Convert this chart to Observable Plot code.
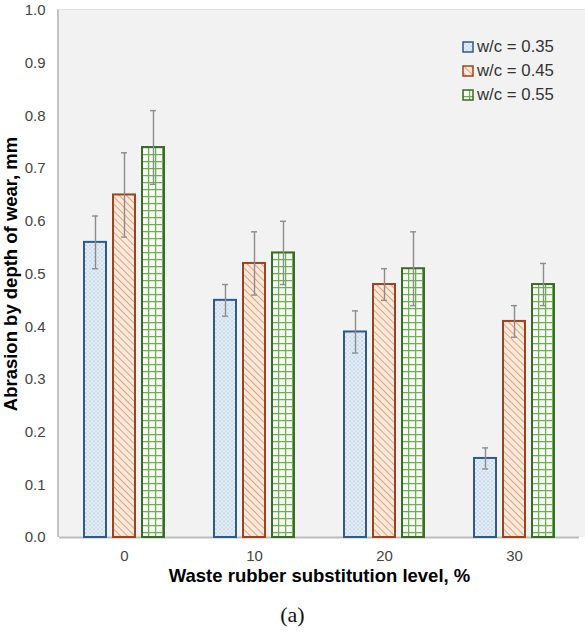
<!DOCTYPE html>
<html><head><meta charset="utf-8">
<script src="https://cdn.jsdelivr.net/npm/d3@7"></script>
<script src="https://cdn.jsdelivr.net/npm/@observablehq/plot@0.6"></script>
<style>
body{margin:0;background:#fff;font-family:"Liberation Sans",Arial,sans-serif;}
#wrap{position:relative;width:585px;height:640px;overflow:hidden;}
#panel{position:absolute;left:57px;top:9px;width:528px;height:528px;background:#f2f2f2;border-left:2px solid #c4c4c4;border-top:1px solid #e2e2e2;box-sizing:border-box;}
#chart{position:absolute;left:0;top:0;}
#legend{position:absolute;left:462px;top:35px;font-size:16.8px;color:#333;}
.item{display:flex;align-items:center;height:24px;}
.item svg{margin-right:3px;}
#caption{position:absolute;top:602px;left:0;width:585px;text-align:center;font-family:"Liberation Serif","Times New Roman",serif;font-size:22px;color:#111;}
#chart svg [aria-label="fx-axis label"], #chart svg [aria-label="y-axis label"]{font-size:18.5px;font-weight:bold;fill:#000;}
#chart svg [aria-label="fx-axis label"] text, #chart svg [aria-label="y-axis label"] text{font-size:18.5px;font-weight:bold;fill:#000;}
</style></head>
<body>
<svg width="0" height="0" style="position:absolute">
  <defs>
    <pattern id="pBlue" patternUnits="userSpaceOnUse" width="4" height="4">
      <rect width="4" height="4" fill="#e3edf7"/>
      <circle cx="1" cy="1" r="0.6" fill="#7a9cc0"/>
      <circle cx="3" cy="3" r="0.6" fill="#9bb5d2"/>
    </pattern>
    <pattern id="pOrange" patternUnits="userSpaceOnUse" width="5" height="5" patternTransform="rotate(-45)">
      <rect width="5" height="5" fill="#fbe9dc"/>
      <line x1="0" y1="0" x2="0" y2="5" stroke="#e08f62" stroke-width="1.6"/>
    </pattern>
    <pattern id="pGreen" patternUnits="userSpaceOnUse" width="7" height="7">
      <rect width="7" height="7" fill="#f6fbf3"/>
      <line x1="0.5" y1="0" x2="0.5" y2="7" stroke="#6fae55" stroke-width="1.5"/>
      <line x1="0" y1="0.5" x2="7" y2="0.5" stroke="#6fae55" stroke-width="1.5"/>
    </pattern>
  </defs>
</svg>
<div id="wrap">
  <div id="panel"></div>
  <div id="chart"></div>
  <div id="legend"></div>
  <div id="caption">(a)</div>
</div>
<script>
// ---- data ----
const levels = ["0", "10", "20", "30"];
const wcRatios = ["0.35", "0.45", "0.55"];
const mean035 = [0.56, 0.45, 0.39, 0.15];
const err035  = [0.05, 0.03, 0.04, 0.02];
const mean045 = [0.65, 0.52, 0.48, 0.41];
const err045  = [0.08, 0.06, 0.03, 0.03];
const mean055 = [0.74, 0.54, 0.51, 0.48];
const err055  = [0.07, 0.06, 0.07, 0.04];
const yTicks = [0, 0.1, 0.2, 0.3, 0.4, 0.5, 0.6, 0.7, 0.8, 0.9, 1.0];
const xTitle = "Waste rubber substitution level, %";
const yTitle = "Abrasion by depth of wear, mm";

// ---- styles ----
const seriesStyle = [
  {fill: "url(#pBlue)", stroke: "#2f5b88"},
  {fill: "url(#pOrange)", stroke: "#9a4520"},
  {fill: "url(#pGreen)", stroke: "#3b6b28"}
];
const seriesData = [
  {wc: wcRatios[0], mean: mean035, err: err035},
  {wc: wcRatios[1], mean: mean045, err: err045},
  {wc: wcRatios[2], mean: mean055, err: err055}
];

const marks = [
  Plot.axisY({ticks: yTicks, tickFormat: d3.format(".1f"), label: yTitle, labelAnchor: "center", labelArrow: "none", tickSize: 0, tickPadding: 14, labelOffset: 56, fontSize: 15, fill: "#444"}),
  Plot.axisFx({anchor: "bottom", label: xTitle, labelAnchor: "center", tickSize: 0, tickPadding: 13, labelOffset: 44, fontSize: 15, fill: "#444"}),
  Plot.ruleY([0], {stroke: "#bdbdbd", strokeWidth: 2})
];
seriesData.forEach((s, i) => {
  const rows = levels.map((lv, j) => ({level: lv, wc: s.wc, mean: s.mean[j], lo: s.mean[j] - s.err[j], hi: s.mean[j] + s.err[j]}));
  const st = seriesStyle[i];
  marks.push(Plot.barY(rows, {fx: "level", x: "wc", y: "mean", fill: st.fill, stroke: st.stroke, strokeWidth: 2}));
  marks.push(Plot.ruleX(rows, {fx: "level", x: "wc", y1: "lo", y2: "hi", stroke: "#8c8c8c", strokeWidth: 1.4}));
  marks.push(Plot.tickY(rows, {fx: "level", x: "wc", y: "lo", stroke: "#8c8c8c", strokeWidth: 1.4, insetLeft: 8, insetRight: 8}));
  marks.push(Plot.tickY(rows, {fx: "level", x: "wc", y: "hi", stroke: "#8c8c8c", strokeWidth: 1.4, insetLeft: 8, insetRight: 8}));
});

const chart = Plot.plot({
  width: 585,
  height: 595,
  marginLeft: 58,
  marginRight: 5,
  marginTop: 10,
  marginBottom: 58,
  style: {background: "transparent", fontFamily: "'Liberation Sans', Arial, sans-serif", fontSize: "15px", color: "#404040", overflow: "visible"},
  fx: {domain: levels, padding: 0},
  x: {domain: wcRatios, paddingInner: 0.24, paddingOuter: 0.86, axis: null},
  y: {domain: [0, 1]},
  marks
});
document.getElementById("chart").appendChild(chart);

// legend
const leg = document.getElementById("legend");
wcRatios.forEach((w, i) => {
  const item = document.createElement("div");
  item.className = "item";
  item.innerHTML = `<svg width="12" height="12"><rect x="1" y="1" width="10" height="10" fill="${seriesStyle[i].fill}" stroke="${seriesStyle[i].stroke}" stroke-width="1.5"/></svg><span>w/c = ${w}</span>`;
  leg.appendChild(item);
});
</script>
</body></html>
